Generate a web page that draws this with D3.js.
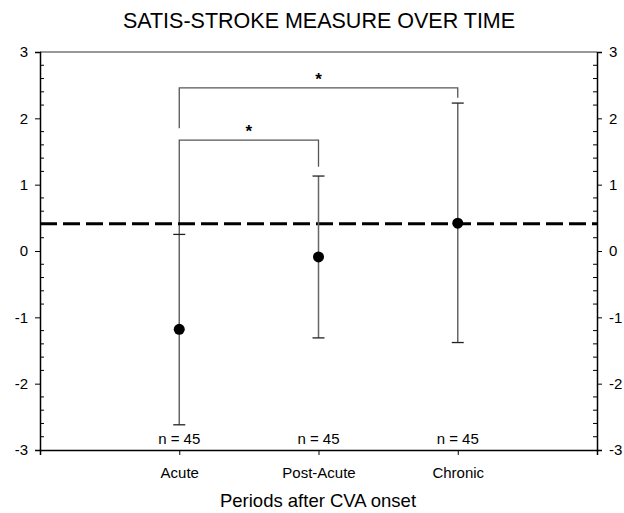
<!DOCTYPE html>
<html>
<head>
<meta charset="utf-8">
<script src="https://cdn.jsdelivr.net/npm/d3@7"></script>
<style>
  body { margin: 0; background: #fff; }
  svg { display: block; }
</style>
</head>
<body>
<div id="chart"></div>
<script>
// data
const periods = ["Acute", "Post-Acute", "Chronic"];
const means = [-1.18, -0.09, 0.42];
const upper = [0.25, 1.13, 2.23];
const lower = [-2.62, -1.31, -1.38];
const counts = [45, 45, 45];
const refLevel = 0.41;
const yTicks = [-3, -2, -1, 0, 1, 2, 3];
// significance brackets: from, to, bracket top, left drop, right drop
const brackets = [
    { from: 0, to: 1, top: 1.67, leftEnd: 0.25, rightEnd: 1.27 },
    { from: 0, to: 2, top: 2.46, leftEnd: 1.85, rightEnd: 2.31 }
];

const width = 624, height = 513;
const margin = { top: 52, right: 27, bottom: 63, left: 40 };
const innerW = width - margin.left - margin.right;
const innerH = height - margin.top - margin.bottom;
const font = "Liberation Sans, Arial, sans-serif";

const svg = d3.select("#chart").append("svg")
    .attr("width", width)
    .attr("height", height)
    .attr("font-family", font);

const chart = svg.append("g")
    .attr("transform", `translate(${margin.left},${margin.top})`);

const x = d3.scaleLinear().domain([0, 4]).range([0, innerW]);
const y = d3.scaleLinear().domain([-3, 3]).range([innerH, 0]);
const xPos = i => x(i + 1);
const fmt = d => String(d); // plain hyphen minus like the original

// title
svg.append("text")
    .attr("x", 319).attr("y", 28)
    .attr("text-anchor", "middle")
    .attr("font-size", 21.5)
    .text("SATIS-STROKE MEASURE OVER TIME");

// top frame line
chart.append("line")
    .attr("x1", 0).attr("x2", innerW)
    .attr("y1", 0).attr("y2", 0)
    .attr("stroke", "#777").attr("stroke-width", 1.5);

const minor = d3.range(-3, 3.001, 0.2).map(v => Math.round(v * 10) / 10)
    .filter(v => !yTicks.includes(v));

// left axis: major ticks outside, minor inside
const leftAxis = chart.append("g")
    .call(d3.axisLeft(y).tickValues(yTicks).tickSize(5).tickPadding(7).tickFormat(fmt));
leftAxis.selectAll(".minor").data(minor).enter().append("line")
    .attr("x1", 0).attr("x2", 4)
    .attr("y1", d => y(d)).attr("y2", d => y(d))
    .attr("stroke", "#000");

const rightAxis = chart.append("g")
    .attr("transform", `translate(${innerW},0)`)
    .call(d3.axisRight(y).tickValues(yTicks).tickSize(5).tickPadding(7).tickFormat(fmt));
rightAxis.selectAll(".minor").data(minor).enter().append("line")
    .attr("x1", 0).attr("x2", -4)
    .attr("y1", d => y(d)).attr("y2", d => y(d))
    .attr("stroke", "#000");

const bottomAxis = chart.append("g")
    .attr("transform", `translate(0,${innerH})`)
    .call(d3.axisBottom(x).tickValues([1, 2, 3]).tickSize(5).tickPadding(12)
        .tickFormat(d => periods[d - 1]));

[leftAxis, rightAxis, bottomAxis].forEach(a => {
    a.attr("font-size", 15).attr("font-family", font);
    a.select(".domain").attr("stroke-width", 1.5);
    a.selectAll(".tick text").attr("fill", "#000");
    a.selectAll(".tick line").attr("stroke", "#000");
});

// x-axis title
svg.append("text")
    .attr("x", 318).attr("y", 507)
    .attr("text-anchor", "middle")
    .attr("font-size", 18.5)
    .text("Periods after CVA onset");

// brackets
brackets.forEach(b => {
    const pts = [
        [xPos(b.from), y(b.leftEnd)],
        [xPos(b.from), y(b.top)],
        [xPos(b.to), y(b.top)],
        [xPos(b.to), y(b.rightEnd)]
    ];
    chart.append("path")
        .attr("d", d3.line()(pts))
        .attr("fill", "none")
        .attr("stroke", "#555")
        .attr("stroke-width", 1.3);
    chart.append("text")
        .attr("x", (xPos(b.from) + xPos(b.to)) / 2)
        .attr("y", y(b.top) - 3)
        .attr("text-anchor", "middle")
        .attr("font-size", 17)
        .attr("font-weight", "bold")
        .text("*");
});

// reference dashed line
chart.append("line")
    .attr("x1", 0).attr("x2", innerW)
    .attr("y1", y(refLevel)).attr("y2", y(refLevel))
    .attr("stroke", "#000")
    .attr("stroke-width", 3)
    .attr("stroke-dasharray", "17,6");

// error bars
const bars = chart.selectAll(".err").data(periods).enter().append("g").attr("class", "err");
bars.append("line")
    .attr("x1", (d, i) => xPos(i)).attr("x2", (d, i) => xPos(i))
    .attr("y1", (d, i) => y(upper[i])).attr("y2", (d, i) => y(lower[i]))
    .attr("stroke", "#666").attr("stroke-width", 1.5);
[upper, lower].forEach(arr => {
    bars.append("line")
        .attr("x1", (d, i) => xPos(i) - 6).attr("x2", (d, i) => xPos(i) + 6)
        .attr("y1", (d, i) => y(arr[i])).attr("y2", (d, i) => y(arr[i]))
        .attr("stroke", "#222").attr("stroke-width", 1.3);
});
bars.append("circle")
    .attr("cx", (d, i) => xPos(i))
    .attr("cy", (d, i) => y(means[i]))
    .attr("r", 5.5)
    .attr("fill", "#000");

// n labels
chart.selectAll(".nlab").data(counts).enter().append("text")
    .attr("class", "nlab")
    .attr("x", (d, i) => xPos(i))
    .attr("y", innerH - 6)
    .attr("text-anchor", "middle")
    .attr("font-size", 15)
    .text(d => `n = ${d}`);
</script>
</body>
</html>
